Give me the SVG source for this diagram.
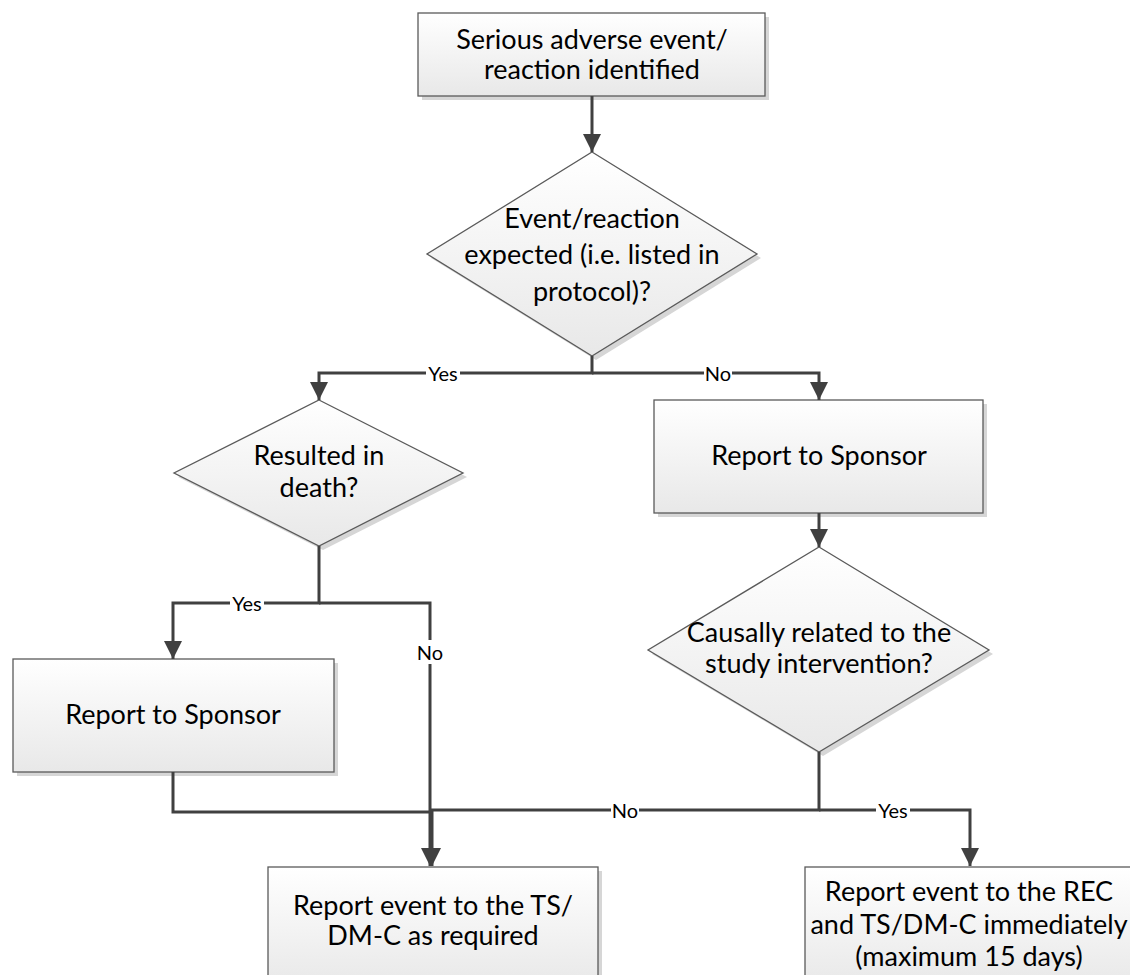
<svg xmlns="http://www.w3.org/2000/svg" width="1130" height="975" viewBox="0 0 1130 975">
<defs>
<linearGradient id="g" x1="0" y1="0" x2="0" y2="1">
<stop offset="0" stop-color="#ffffff"/>
<stop offset="1" stop-color="#e8e8e8"/>
</linearGradient>
<marker id="ah" viewBox="0 0 18 18" refX="18" refY="9" markerWidth="18" markerHeight="18" markerUnits="userSpaceOnUse" orient="auto">
<path d="M0,0 L18,9 L0,18 z" fill="#404040"/>
</marker>
</defs>
<style>
.shape{fill:url(#g);stroke:#5a5a5a;stroke-width:1.3}
.shadow{fill:#d6d6d6}
.t{font-family:Lato,"Liberation Sans",sans-serif;font-size:27px;fill:#000;text-anchor:middle}
.c{fill:none;stroke:#404040;stroke-width:3}
.a{marker-end:url(#ah)}
.lb{font-family:Lato,"Liberation Sans",sans-serif;font-size:20px;fill:#000;text-anchor:middle;dominant-baseline:central}
.bg{fill:#fff}
</style>
<rect width="1130" height="975" fill="#fff"/>
<g id="n1">
<rect class="shadow" x="422" y="17" width="347" height="83"/>
<rect class="shape" x="418" y="13" width="347" height="83"/>
<text class="t" x="592" y="49">Serious adverse event/</text>
<text class="t" x="592" y="79">reaction identified</text>
</g>
<g id="n2">
<polygon class="shadow" points="596,156 761,258 596,360 431,258"/>
<polygon class="shape" points="592,152 757,254 592,356 427,254"/>
<text class="t" x="592" y="228">Event/reaction</text>
<text class="t" x="592" y="264">expected (i.e. listed in</text>
<text class="t" x="592" y="301">protocol)?</text>
</g>
<g id="n3">
<polygon class="shadow" points="323,404 467,477 323,550 178,477"/>
<polygon class="shape" points="319,400 463,473 319,546 174,473"/>
<text class="t" x="319" y="465">Resulted in</text>
<text class="t" x="319" y="497">death?</text>
</g>
<g id="n4">
<rect class="shadow" x="658" y="404" width="329" height="113"/>
<rect class="shape" x="654" y="400" width="329" height="113"/>
<text class="t" x="819" y="465">Report to Sponsor</text>
</g>
<g id="n5">
<polygon class="shadow" points="823,551 993,654 823,756 652,654"/>
<polygon class="shape" points="819,547 989,650 819,752 648,650"/>
<text class="t" x="819" y="642">Causally related to the</text>
<text class="t" x="819" y="673">study intervention?</text>
</g>
<g id="n6">
<rect class="shadow" x="17" y="663" width="321" height="113"/>
<rect class="shape" x="13" y="659" width="321" height="113"/>
<text class="t" x="173" y="724">Report to Sponsor</text>
</g>
<g id="n7">
<rect class="shadow" x="272" y="871" width="330" height="120"/>
<rect class="shape" x="268" y="867" width="330" height="120"/>
<text class="t" x="433" y="915">Report event to the TS/</text>
<text class="t" x="433" y="945">DM-C as required</text>
</g>
<g id="n8">
<rect class="shadow" x="809" y="871" width="330" height="120"/>
<rect class="shape" x="805" y="867" width="330" height="120"/>
<text class="t" x="969" y="901">Report event to the REC</text>
<text class="t" x="969" y="934">and TS/DM-C immediately</text>
<text class="t" x="969" y="966">(maximum 15 days)</text>
</g>
<g id="connectors">
<path class="c a" d="M592,96 V152"/>
<path class="c a" d="M592,356 V373 H319 V400"/>
<path class="c a" d="M592,373 H819 V400"/>
<path class="c a" d="M819,513 V547"/>
<path class="c a" d="M319,546 V603 H173 V659"/>
<path class="c a" d="M319,603 H430 V866"/>
<path class="c" d="M173,772 V812 H430"/>
<path class="c a" d="M819,752 V810 H432 V866"/>
<path class="c a" d="M819,810 H970 V866"/>
<rect class="bg" x="426" y="362" width="34" height="22"/>
<text class="lb" x="443" y="373">Yes</text>
<rect class="bg" x="704" y="362" width="28" height="22"/>
<text class="lb" x="718" y="373">No</text>
<rect class="bg" x="230" y="592" width="34" height="22"/>
<text class="lb" x="247" y="603">Yes</text>
<rect class="bg" x="416" y="640" width="28" height="24"/>
<text class="lb" x="430" y="652">No</text>
<rect class="bg" x="611" y="799" width="28" height="22"/>
<text class="lb" x="625" y="810">No</text>
<rect class="bg" x="876" y="799" width="34" height="22"/>
<text class="lb" x="893" y="810">Yes</text>
</g>
</svg>
